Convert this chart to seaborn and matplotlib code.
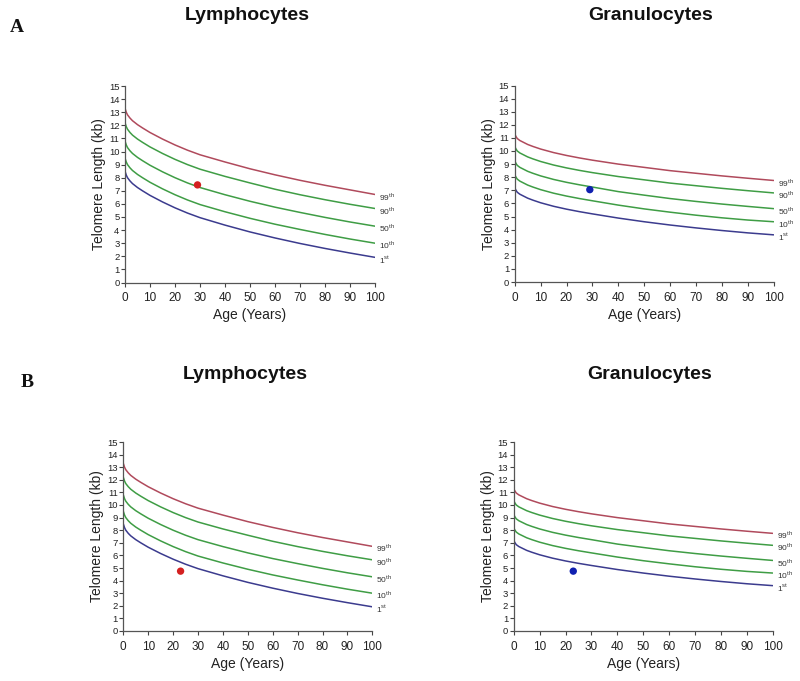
import numpy as np
import pandas as pd
import matplotlib
matplotlib.use("Agg")
import matplotlib.pyplot as plt
import seaborn as sns

AGES = [0, 0.5, 1, 2, 3, 5, 7, 10, 15, 20, 25, 30, 40, 50, 60, 70, 80, 90, 100]
PERCENTILES = ["99th", "90th", "50th", "10th", "1st"]
PCT_LABELS = [r"99$^{\mathrm{th}}$", r"90$^{\mathrm{th}}$", r"50$^{\mathrm{th}}$",
              r"10$^{\mathrm{th}}$", r"1$^{\mathrm{st}}$"]

# lymphocyte telomere length (kb)
LYMPH_99 = [13.3, 13.0, 12.8, 12.55, 12.35, 12.05, 11.8, 11.45, 10.95, 10.5, 10.1, 9.75,
            9.2, 8.68, 8.22, 7.8, 7.42, 7.07, 6.72]
LYMPH_90 = [12.2, 11.9, 11.7, 11.45, 11.25, 10.95, 10.7, 10.35, 9.85, 9.4, 9.0, 8.65,
            8.1, 7.6, 7.12, 6.7, 6.32, 5.97, 5.65]
LYMPH_50 = [10.8, 10.5, 10.3, 10.05, 9.85, 9.55, 9.3, 8.95, 8.45, 8.0, 7.6, 7.25,
            6.7, 6.2, 5.75, 5.35, 4.97, 4.62, 4.3]
LYMPH_10 = [9.5, 9.2, 9.0, 8.75, 8.55, 8.25, 8.0, 7.65, 7.15, 6.7, 6.3, 5.95,
            5.4, 4.9, 4.45, 4.05, 3.67, 3.32, 3.0]
LYMPH_1 = [8.5, 8.2, 8.0, 7.75, 7.55, 7.25, 7.0, 6.65, 6.15, 5.7, 5.3, 4.95,
           4.38, 3.86, 3.4, 2.98, 2.6, 2.25, 1.92]

# granulocyte telomere length (kb)
GRAN_99 = [11.3, 11.1, 10.95, 10.8, 10.7, 10.5, 10.35, 10.15, 9.88, 9.66, 9.47, 9.3,
           9.0, 8.75, 8.5, 8.3, 8.1, 7.92, 7.75]
GRAN_90 = [10.35, 10.15, 10.0, 9.85, 9.75, 9.55, 9.4, 9.2, 8.93, 8.71, 8.52, 8.35,
           8.05, 7.8, 7.55, 7.35, 7.15, 6.97, 6.8]
GRAN_50 = [9.25, 9.05, 8.9, 8.75, 8.65, 8.45, 8.3, 8.1, 7.83, 7.61, 7.42, 7.25,
           6.9, 6.63, 6.37, 6.15, 5.95, 5.77, 5.6]
GRAN_10 = [8.2, 8.0, 7.85, 7.7, 7.6, 7.4, 7.25, 7.05, 6.78, 6.56, 6.37, 6.2,
           5.87, 5.58, 5.33, 5.1, 4.9, 4.73, 4.6]
GRAN_1 = [7.2, 7.0, 6.85, 6.7, 6.6, 6.4, 6.25, 6.05, 5.78, 5.56, 5.37, 5.2,
          4.88, 4.6, 4.35, 4.13, 3.93, 3.75, 3.6]

# patient measurements (age, kb) for panels A and B
PATIENT_A_LYMPH = (29, 7.45)
PATIENT_A_GRAN = (29, 7.05)
PATIENT_B_LYMPH = (23, 4.75)
PATIENT_B_GRAN = (23, 4.75)

LINE_COLORS = {"99th": "#b04a5c", "90th": "#3f9d45", "50th": "#3f9d45",
               "10th": "#3f9d45", "1st": "#3b3b8e"}


def curves_frame(series):
    rows = []
    for pct, values in zip(PERCENTILES, series):
        for age, kb in zip(AGES, values):
            rows.append({"age": age, "kb": kb, "pct": pct})
    return pd.DataFrame(rows)


def draw_panel(ax, series, point, point_color):
    df = curves_frame(series)
    sns.lineplot(data=df, x="age", y="kb", hue="pct", palette=LINE_COLORS,
                 linewidth=1.1, legend=False, ax=ax)
    sns.scatterplot(x=[point[0]], y=[point[1]], color=point_color, s=28,
                    edgecolor="none", ax=ax, zorder=5)
    for values, label in zip(series, PCT_LABELS):
        ax.annotate(label, xy=(AGES[-1], values[-1]), xytext=(3, -1.5),
                    textcoords="offset points", fontsize=6, color="#333333",
                    va="center", ha="left", annotation_clip=False)
    ax.set_xlim(0, 100)
    ax.set_ylim(0, 15)
    ax.set_xticks(range(0, 101, 10))
    ax.set_yticks(range(0, 16))
    ax.tick_params(axis="x", labelsize=8.5, length=3, width=0.8, colors="#444444",
                   labelcolor="#222222", pad=4)
    ax.tick_params(axis="y", labelsize=6.8, length=3, width=0.8, colors="#444444",
                   labelcolor="#222222", pad=1)
    for side in ["left", "bottom"]:
        ax.spines[side].set_color("#555555")
        ax.spines[side].set_linewidth(0.9)
    sns.despine(ax=ax)
    ax.set_xlabel("Age (Years)", fontsize=10, color="#222222", labelpad=3)
    ax.set_ylabel("Telomere Length (kb)", fontsize=10, color="#222222", labelpad=2)


sns.set_style("ticks")
plt.rcParams["font.family"] = ["Liberation Sans", "DejaVu Sans"]
plt.rcParams["mathtext.fontset"] = "custom"
plt.rcParams["mathtext.rm"] = "Liberation Sans"

fig = plt.figure(figsize=(8, 6.81), dpi=100)
W, H = 800.0, 681.0

lymph = [LYMPH_99, LYMPH_90, LYMPH_50, LYMPH_10, LYMPH_1]
gran = [GRAN_99, GRAN_90, GRAN_50, GRAN_10, GRAN_1]

ax_al = fig.add_axes([125 / W, 1 - 282.5 / H, 250 / W, 196.5 / H])
ax_ag = fig.add_axes([514.7 / W, 1 - 282 / H, 259 / W, 196.5 / H])
ax_bl = fig.add_axes([123.3 / W, 1 - 631 / H, 249 / W, 189 / H])
ax_bg = fig.add_axes([513.7 / W, 1 - 631 / H, 259 / W, 189 / H])

draw_panel(ax_al, lymph, PATIENT_A_LYMPH, "#d42020")
draw_panel(ax_ag, gran, PATIENT_A_GRAN, "#1020b0")
draw_panel(ax_bl, lymph, PATIENT_B_LYMPH, "#d42020")
draw_panel(ax_bg, gran, PATIENT_B_GRAN, "#1020b0")

title_kw = dict(fontsize=14, fontweight="bold", ha="center", va="center", color="#111111")
fig.text(247 / W, 1 - 15 / H, "Lymphocytes", **title_kw)
fig.text(651 / W, 1 - 15 / H, "Granulocytes", **title_kw)
fig.text(245 / W, 1 - 375 / H, "Lymphocytes", **title_kw)
fig.text(650 / W, 1 - 375 / H, "Granulocytes", **title_kw)

letter_kw = dict(fontsize=14, fontweight="bold", ha="center", va="center",
                 family=["Liberation Serif", "DejaVu Serif"], color="#111111")
fig.text(16.5 / W, 1 - 27 / H, "A", **letter_kw)
fig.text(27.5 / W, 1 - 382.5 / H, "B", **letter_kw)

fig.savefig("out.png", dpi=100, facecolor="white")
